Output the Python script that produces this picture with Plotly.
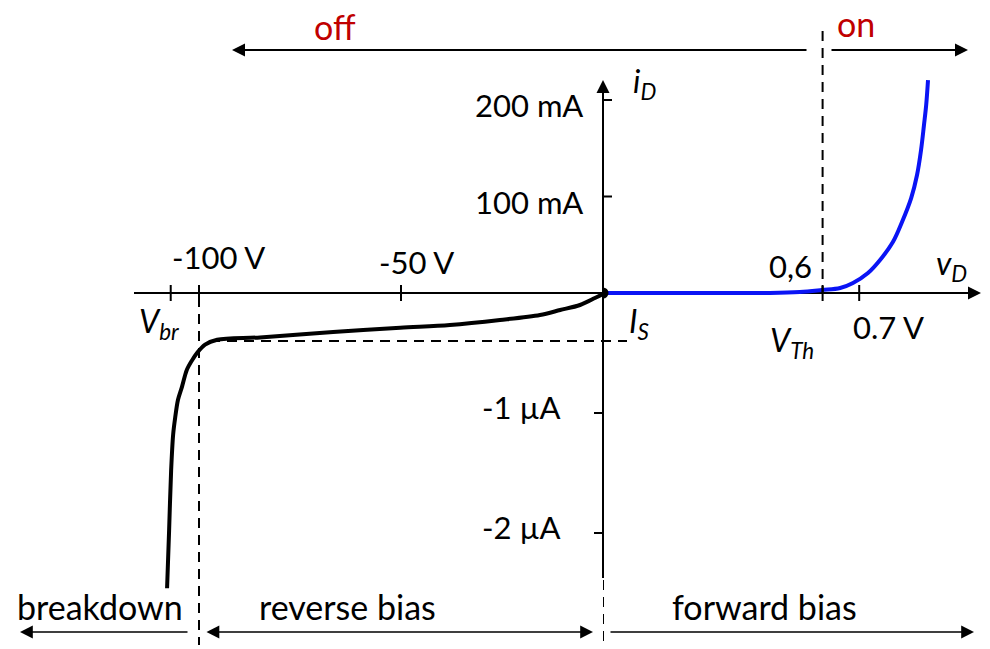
import plotly.graph_objects as go

W, H = 990, 649

# ---------------- data ----------------
# reverse / breakdown branch: voltage in V, current in µA
rev_v = [-107.9, -107.4, -106.9, -106.4, -105.9, -105.2, -104.2, -103.0, -101.7,
         -100.5, -98.5, -95.5, -84.9, -66.8, -50.2, -37.9, -25.5, -15.6, -10.6,
         -5.7, -2.0, 0.0]
rev_i = [-2.46, -1.98, -1.48, -1.18, -1.04, -0.89, -0.78, -0.64, -0.56,
         -0.50, -0.43, -0.39, -0.37, -0.325, -0.29, -0.267, -0.225, -0.183, -0.142,
         -0.10, -0.042, -0.008]
# forward branch: voltage in V, current in mA
fwd_v = [0.0, 0.265, 0.456, 0.538, 0.598, 0.648, 0.683, 0.724, 0.757, 0.792,
         0.817, 0.842, 0.858, 0.869, 0.877, 0.883, 0.888]
fwd_i = [0, 0, 0, 1.0, 3.1, 5.2, 10.4, 20.7, 34.2, 52.8,
         73.6, 98.4, 122.3, 148.2, 174.1, 194.8, 220.7]

# ticks
rev_xticks = [-100, -50]
rev_xlabels = ["-100 V", "-50 V"]
fwd_xticks = [0.6, 0.7]
fwd_xlabels = ["0,6", "0.7 V"]
mA_yticks = [200, 100]
mA_ylabels = ["200 mA", "100 mA"]
uA_yticks = [-1, -2]
uA_ylabels = ["-1 µA", "-2 µA"]
V_BR = -107.0   # V
V_TH = 0.6      # V
I_S = -0.4      # µA

# ---------------- scales (pixel geometry of the sketch) ----------------
OX, OY = 603, 293          # origin in pixels
PX_PER_V_REV = 4.04
PX_PER_V_FWD = 366.0
PX_PER_UA = 120.0
PX_PER_MA = 0.965

FONT = "Lato"
FS = 31        # numbers
FS_W = 34      # word labels
FS_S = 32      # symbols
RED = "#c00000"
BLUE = "#0a14f5"


def px(x):
    return x / W


def py(y):
    return 1 - y / H


fig = go.Figure()

fig.add_trace(go.Scatter(x=fwd_v, y=fwd_i, mode="lines", xaxis="x2", yaxis="y2",
                         line=dict(color=BLUE, width=4, shape="spline", smoothing=1.0),
                         hoverinfo="skip"))
fig.add_trace(go.Scatter(x=rev_v, y=rev_i, mode="lines", xaxis="x", yaxis="y",
                         line=dict(color="black", width=4, shape="spline", smoothing=0.9),
                         hoverinfo="skip"))
fig.add_trace(go.Scatter(x=[fwd_v[0]], y=[fwd_i[0]], mode="markers", xaxis="x2", yaxis="y2",
                         marker=dict(color="black", size=11), hoverinfo="skip"))

shapes = []
ann = []

# axis lines (below traces)
shapes.append(dict(type="line", xref="paper", yref="paper", x0=px(134), x1=px(968),
                   y0=py(OY), y1=py(OY), line=dict(color="black", width=2), layer="below"))
shapes.append(dict(type="line", xref="paper", yref="paper", x0=px(OX), x1=px(OX),
                   y0=py(578), y1=py(95), line=dict(color="black", width=2), layer="below"))


def arrow(xh, yh, xt, yt, width=2.0, size=1.3, both=False):
    a = dict(x=px(xh), y=py(yh), xref="paper", yref="paper",
             ax=xt - xh, ay=yt - yh, axref="pixel", ayref="pixel",
             text="", showarrow=True, arrowhead=2, arrowsize=size,
             arrowwidth=width, arrowcolor="black", standoff=0, startstandoff=0)
    if both:
        a.update(arrowside="end+start", startarrowhead=2, startarrowsize=size)
    ann.append(a)


# arrow heads on axes
arrow(981, OY, 950, OY)
arrow(OX, 80, OX, 120)
# top off / on arrows
arrow(232, 50, 808, 50)
arrow(968, 50, 830, 50)
# bottom region arrows
arrow(20, 632, 189, 632, width=1.6, size=1.6)
arrow(593, 632, 205, 632, width=1.6, size=1.6, both=True)
arrow(974, 632, 609, 632, width=1.6, size=1.6)

dash = dict(color="black", width=2, dash="10px,7px")
# dashed helpers
shapes.append(dict(type="line", xref="x", yref="paper", x0=-100, x1=-100,
                   y0=py(297), y1=py(645), line=dash))
shapes.append(dict(type="line", xref="x2", yref="paper", x0=0, x1=0,
                   y0=py(580), y1=py(641), line=dash))
shapes.append(dict(type="line", xref="x2", yref="paper", x0=V_TH, x1=V_TH,
                   y0=py(31), y1=py(OY), line=dash))
shapes.append(dict(type="line", xref="paper", yref="y", x0=px(210), x1=px(627),
                   y0=I_S, y1=I_S, line=dash, layer="below"))

tick = dict(color="black", width=2)
# x ticks
for v in rev_xticks + [V_BR]:
    shapes.append(dict(type="line", xref="x", yref="y", x0=v, x1=v, ysizemode="pixel",
                       yanchor=0, y0=-8, y1=8, line=tick))
for v in fwd_xticks:
    shapes.append(dict(type="line", xref="x2", yref="y2", x0=v, x1=v, ysizemode="pixel",
                       yanchor=0, y0=-8, y1=8, line=tick))
# y ticks
for v in mA_yticks:
    shapes.append(dict(type="line", xref="x2", yref="y2", y0=v, y1=v, xsizemode="pixel",
                       xanchor=0, x0=-9, x1=9, line=tick))
for v in uA_yticks:
    shapes.append(dict(type="line", xref="x", yref="y", y0=v, y1=v, xsizemode="pixel",
                       xanchor=0, x0=-9, x1=9, line=tick))


def text(t, x, y, xref, yref, xanchor="center", xshift=0, yshift=0, color="black", size=FS):
    ann.append(dict(text=t, x=x, y=y, xref=xref, yref=yref, showarrow=False,
                    xanchor=xanchor, yanchor="middle", xshift=xshift, yshift=yshift,
                    font=dict(family=FONT, size=size, color=color)))


# tick labels
text(rev_xlabels[0], rev_xticks[0], 0, "x", "y", xshift=19, yshift=36)
text(rev_xlabels[1], rev_xticks[1], 0, "x", "y", xshift=15, yshift=31)
text(fwd_xlabels[0], fwd_xticks[0], 0, "x2", "y2", xanchor="right", xshift=-9, yshift=27)
text(fwd_xlabels[1], fwd_xticks[1], 0, "x2", "y2", xshift=29, yshift=-34)
for v, lab in zip(mA_yticks, mA_ylabels):
    text(lab, 0, v, "x2", "y2", xanchor="right", xshift=-18, yshift=-5)
for v, lab in zip(uA_yticks, uA_ylabels):
    text(lab, 0, v, "x", "y", xanchor="right", xshift=-40, yshift=6)

# symbols
text("<i>V</i><sub><i>br</i></sub>", V_BR, 0, "x", "y", xanchor="left", xshift=-34, yshift=-30, size=FS_S)
text("<i>I</i><sub><i>S</i></sub>", 0, I_S, "x", "y", xanchor="left", xshift=24, yshift=18, size=FS_S)
text("<i>V</i><sub><i>Th</i></sub>", V_TH, 0, "x2", "y2", xanchor="left", xshift=-55, yshift=-49, size=FS_S)
text("<i>i</i><sub><i>D</i></sub>", 0, 200, "x2", "y2", xanchor="left", xshift=28, yshift=17, size=FS_S)
text("<i>v</i><sub><i>D</i></sub>", 0.7, 0, "x2", "y2", xanchor="left", xshift=75, yshift=28, size=FS_S)

# region labels
text("off", px(335), py(27), "paper", "paper", color=RED, size=FS_W)
text("on", px(856), py(24), "paper", "paper", color=RED, size=FS_W)
text("breakdown", px(100), py(606), "paper", "paper", size=FS_W)
text("reverse bias", px(347), py(606), "paper", "paper", size=FS_W)
text("forward bias", px(764), py(606), "paper", "paper", size=FS_W)

fig.update_layout(
    width=W, height=H, margin=dict(l=0, r=0, t=0, b=0),
    paper_bgcolor="white", plot_bgcolor="white", showlegend=False,
    xaxis=dict(domain=[0, OX / W], range=[-OX / PX_PER_V_REV, 0], visible=False, fixedrange=True),
    xaxis2=dict(domain=[OX / W, 1], range=[0, (W - OX) / PX_PER_V_FWD], visible=False,
                anchor="y2", fixedrange=True),
    yaxis=dict(domain=[0, 1], range=[(OY - H) / PX_PER_UA, OY / PX_PER_UA], visible=False,
               anchor="x", fixedrange=True),
    yaxis2=dict(domain=[0, 1], range=[(OY - H) / PX_PER_MA, OY / PX_PER_MA], visible=False,
                anchor="x2", fixedrange=True),
    shapes=shapes, annotations=ann,
)

fig.write_html("out.html", config={"displayModeBar": False})
